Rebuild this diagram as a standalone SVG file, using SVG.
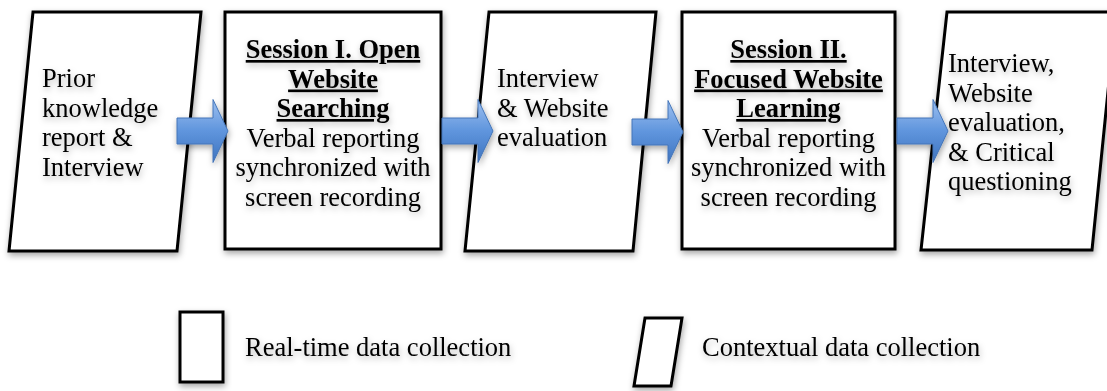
<svg xmlns="http://www.w3.org/2000/svg" width="1107" height="391" viewBox="0 0 1107 391">
  <style>
    .box { fill: #ffffff; stroke: #000000; stroke-width: 3; stroke-linejoin: miter; filter: url(#shapeShadow); }
    .txt { font-size: 26.5px; fill: #000000; filter: url(#textShadow); }
    .mid { text-anchor: middle; }
    .head { font-weight: bold; text-decoration: underline; }
    .arrow { fill: url(#blueGrad); stroke: #4475b8; stroke-width: 1; filter: url(#shapeShadow); }
  </style>
  <defs>
    <linearGradient id="blueGrad" x1="0" y1="0" x2="0" y2="1">
      <stop offset="0" stop-color="#9dc0f0"/>
      <stop offset="0.5" stop-color="#5f95dd"/>
      <stop offset="1" stop-color="#3f74bf"/>
    </linearGradient>
    <filter id="shapeShadow" x="-20%" y="-20%" width="140%" height="140%">
      <feDropShadow dx="1" dy="3" stdDeviation="3" flood-color="#000000" flood-opacity="0.35"/>
    </filter>
    <filter id="textShadow" x="-10%" y="-20%" width="120%" height="150%">
      <feDropShadow dx="1" dy="3" stdDeviation="3" flood-color="#000000" flood-opacity="0.28"/>
    </filter>
    <path id="blockArrow" d="M0,-13 H36 V-31.5 L51,0 L36,31.5 V13 H0 Z"/>
  </defs>

  <g font-family="'Liberation Serif', 'Times New Roman', serif">
  <!-- step 1: prior knowledge (contextual) -->
  <g id="node-prior">
    <polygon class="box" points="33,12 201,12 177,251 9,251"/>
    <text class="txt" x="42" y="87">Prior</text>
    <text class="txt" x="42" y="116.5">knowledge</text>
    <text class="txt" x="42" y="146">report &amp;</text>
    <text class="txt" x="42" y="175.5">Interview</text>
  </g>

  <!-- step 2: session I (real-time) -->
  <g id="node-session1">
    <rect class="box" x="225" y="12" width="216" height="237"/>
    <text class="txt mid head" x="333" y="58">Session I. Open</text>
    <text class="txt mid head" x="333" y="87.5">Website</text>
    <text class="txt mid head" x="333" y="117">Searching</text>
    <text class="txt mid" x="333" y="146.5">Verbal reporting</text>
    <text class="txt mid" x="333" y="176">synchronized with</text>
    <text class="txt mid" x="333" y="205.5">screen recording</text>
  </g>

  <!-- step 3: interview & evaluation (contextual) -->
  <g id="node-eval1">
    <polygon class="box" points="489,12 656,12 633,251 465,251"/>
    <text class="txt" x="497" y="87">Interview</text>
    <text class="txt" x="497" y="116.5">&amp; Website</text>
    <text class="txt" x="497" y="146">evaluation</text>
  </g>

  <!-- step 4: session II (real-time) -->
  <g id="node-session2">
    <rect class="box" x="682" y="12" width="213" height="237"/>
    <text class="txt mid head" x="788.5" y="58">Session II.</text>
    <text class="txt mid head" x="788.5" y="87.5">Focused Website</text>
    <text class="txt mid head" x="788.5" y="117">Learning</text>
    <text class="txt mid" x="788.5" y="146.5">Verbal reporting</text>
    <text class="txt mid" x="788.5" y="176">synchronized with</text>
    <text class="txt mid" x="788.5" y="205.5">screen recording</text>
  </g>

  <!-- step 5: final interview (contextual) -->
  <g id="node-eval2">
    <polygon class="box" points="947,12 1116,12 1092,250 921,250"/>
    <text class="txt" x="948" y="72">Interview,</text>
    <text class="txt" x="948" y="101.5">Website</text>
    <text class="txt" x="948" y="131">evaluation,</text>
    <text class="txt" x="948" y="160.5">&amp; Critical</text>
    <text class="txt" x="948" y="190">questioning</text>
  </g>

  <!-- flow arrows between steps -->
  <g id="connectors">
    <use href="#blockArrow" class="arrow" transform="translate(177,131)"/>
    <use href="#blockArrow" class="arrow" transform="translate(442,131)"/>
    <use href="#blockArrow" class="arrow" transform="translate(632,132)"/>
    <use href="#blockArrow" class="arrow" transform="translate(897,131)"/>
  </g>

  <!-- legend -->
  <g id="legend-realtime">
    <rect class="box" x="180" y="312" width="43" height="70"/>
    <text class="txt" x="245" y="356">Real-time data collection</text>
  </g>
  <g id="legend-contextual">
    <polygon class="box" points="645,318 682,318 671,386 634,386"/>
    <text class="txt" x="702" y="356">Contextual data collection</text>
  </g>
  </g>
</svg>
